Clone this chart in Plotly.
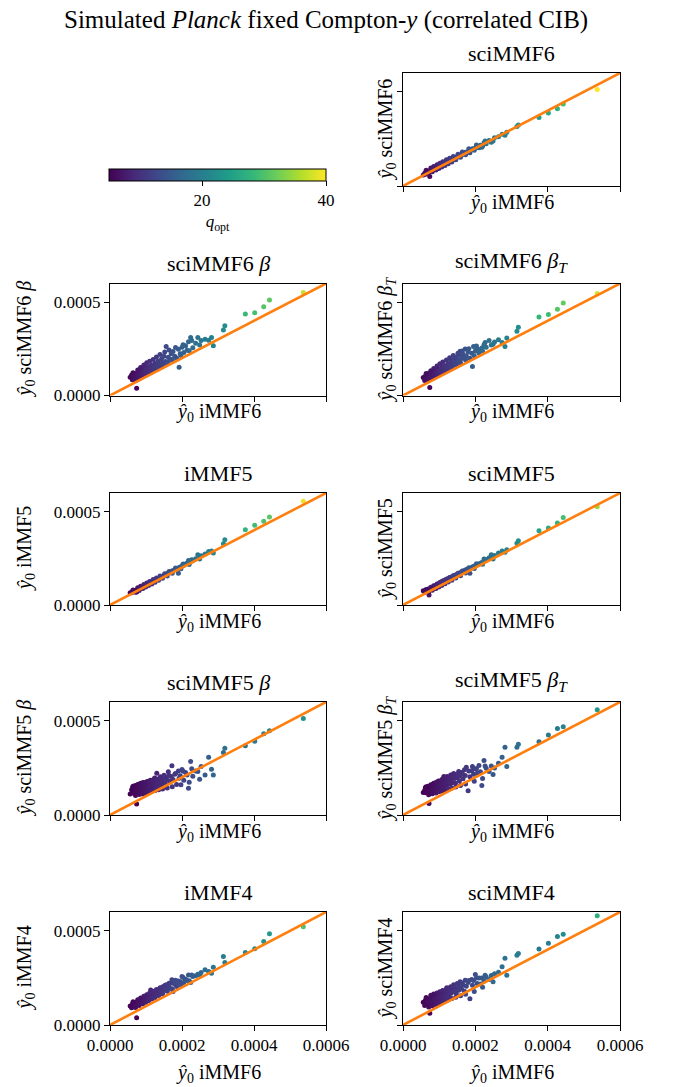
import numpy as np
import plotly.graph_objects as go

# ---------------- data (values in units of 1e-5) ----------------
SCALE = 1e-5

# iMMF6 estimates (shared x axis); last 28 are additional objects of the dense cluster
X_IMMF6 = [
    5.6, 6.0, 6.2, 6.3, 6.6, 6.9, 7.0, 7.2, 7.4, 7.6,
    7.9, 8.0, 8.2, 8.4, 8.7, 8.9, 9.0, 9.2, 9.5, 9.7,
    9.8, 10.0, 10.3, 10.5, 10.6, 10.9, 11.2, 11.3, 11.5, 11.8,
    12.1, 12.2, 12.4, 12.7, 13.0, 13.2, 13.3, 13.6, 14.0, 14.3,
    14.5, 14.7, 15.0, 15.4, 15.6, 15.8, 16.2, 16.6, 17.0, 17.2,
    17.5, 18.0, 18.5, 19.0, 19.2, 19.5, 20.0, 20.5, 21.0, 21.4,
    21.8, 22.4, 23.0, 23.8, 24.4, 25.3, 26.4, 27.4, 28.2, 28.7,
    31.5, 31.9, 37.6, 40.2, 42.7, 44.3, 53.7,
    6.4, 7.1, 7.7, 8.1, 8.5, 9.1, 9.4, 9.9, 10.2, 10.7,
    11.0, 11.6, 12.0, 12.5, 12.9, 13.5, 13.9, 14.6, 15.2, 15.9,
    16.4, 17.3, 18.2, 19.7, 20.3, 22.0, 22.7, 24.9,
]

Y_SCIMMF6 = [
    5.9, 6.8, 6.3, 7.2, 7.0, 7.6, 7.3, 7.9, 5.0, 8.3,
    8.4, 8.9, 8.6, 9.3, 9.1, 9.8, 9.4, 10.1, 9.9, 10.6,
    10.2, 10.9, 10.8, 11.4, 11.0, 11.7, 11.6, 12.3, 11.9, 12.6,
    12.4, 13.1, 12.9, 13.5, 13.3, 14.1, 13.6, 14.2, 14.3, 15.0,
    14.8, 15.3, 15.4, 16.1, 15.7, 16.5, 16.4, 17.2, 17.0, 17.9,
    17.6, 18.4, 17.6, 19.3, 19.8, 19.6, 20.2, 20.6, 20.3, 21.6,
    20.6, 22.9, 22.4, 24.1, 23.2, 25.6, 26.2, 27.5, 27.0, 28.6,
    31.6, 32.4, 36.4, 38.7, 41.0, 43.5, 51.2,
    8.4, 6.6, 9.6, 7.5, 10.4, 8.5, 11.3, 9.3, 12.1, 10.1,
    12.9, 10.9, 13.9, 11.8, 14.7, 12.8, 15.6, 13.9, 16.9, 15.2,
    18.0, 16.6, 19.8, 19.0, 21.8, 21.3, 23.9, 23.9,
]
Y_SCIMMF6_BETA = [
    9.8, 11.0, 8.4, 10.6, 9.2, 11.5, 8.6, 10.3, 3.9, 12.2,
    10.1, 12.8, 11.0, 13.4, 10.4, 12.1, 14.0, 11.6, 13.3, 10.9,
    14.6, 12.5, 13.9, 11.7, 15.4, 13.1, 14.8, 12.4, 16.2, 14.1,
    15.9, 13.3, 17.1, 15.0, 16.4, 14.2, 18.3, 16.8, 15.3, 19.6,
    17.4, 16.1, 21.0, 18.2, 26.2, 17.6, 20.5, 18.9, 22.4, 19.3,
    23.6, 21.0, 20.1, 24.8, 15.1, 22.3, 25.9, 23.0, 26.7, 24.2,
    28.8, 31.1, 25.6, 28.0, 31.1, 29.4, 30.2, 29.6, 31.1, 26.7,
    35.1, 37.4, 43.6, 44.3, 47.5, 51.1, 55.2,
    12.2, 8.0, 13.6, 9.0, 15.0, 10.0, 16.3, 10.9, 17.5, 11.8,
    18.4, 12.8, 19.3, 13.9, 20.6, 15.0, 22.0, 16.2, 23.3, 17.6,
    24.4, 19.0, 25.7, 21.4, 27.2, 24.0, 29.5, 27.0,
]
Y_SCIMMF6_BETAT = [
    9.7, 8.1, 10.4, 9.0, 11.1, 8.3, 10.2, 12.0, 4.3, 9.4,
    11.8, 10.6, 9.7, 12.9, 11.2, 10.3, 13.5, 12.1, 11.0, 14.2,
    12.5, 13.8, 11.9, 14.6, 13.2, 15.3, 12.8, 14.4, 16.0, 13.9,
    15.6, 14.6, 17.0, 15.1, 16.7, 18.2, 15.4, 17.5, 19.1, 16.6,
    18.4, 20.3, 17.2, 21.5, 18.9, 23.7, 19.8, 22.1, 20.6, 24.9,
    21.2, 23.3, 19.9, 22.6, 15.6, 26.3, 23.9, 25.1, 22.8, 24.6,
    25.4, 27.2, 25.8, 29.4, 27.0, 28.7, 29.9, 28.4, 26.3, 30.8,
    34.4, 36.6, 42.1, 43.4, 46.2, 49.6, 54.7,
    11.8, 8.2, 13.2, 9.1, 14.4, 10.2, 15.8, 11.0, 17.0, 11.9,
    18.0, 12.9, 19.0, 14.0, 20.2, 15.1, 21.4, 16.2, 22.7, 17.5,
    23.8, 19.0, 25.0, 21.3, 26.5, 23.8, 28.4, 27.5,
]
Y_IMMF5 = [
    6.6, 6.5, 7.2, 6.9, 7.4, 7.6, 7.8, 7.7, 7.0, 8.3,
    8.2, 8.7, 8.6, 9.1, 9.3, 9.5, 9.8, 9.7, 10.2, 10.4,
    10.6, 10.7, 11.0, 11.2, 11.6, 11.5, 12.0, 12.1, 12.3, 12.4,
    12.8, 13.1, 12.9, 13.5, 13.8, 13.7, 14.2, 14.3, 14.6, 15.2,
    15.1, 15.6, 15.8, 16.3, 16.0, 16.8, 17.0, 17.5, 17.8, 18.2,
    18.4, 18.9, 19.5, 17.0, 20.1, 20.4, 20.9, 21.3, 22.0, 22.3,
    23.8, 23.3, 24.0, 24.8, 26.9, 26.4, 27.3, 28.7, 28.9, 27.8,
    32.8, 34.9, 40.3, 42.7, 44.8, 47.1, 55.6,
    8.0, 6.8, 9.3, 7.8, 10.1, 8.8, 11.0, 9.6, 11.8, 10.4,
    12.6, 11.3, 13.6, 12.2, 14.5, 13.2, 15.5, 14.3, 16.8, 15.6,
    18.0, 17.0, 19.8, 19.4, 21.9, 21.7, 24.2, 24.6,
]
Y_SCIMMF5 = [
    7.7, 6.8, 7.5, 7.9, 7.3, 8.2, 8.6, 5.4, 8.0, 8.9,
    8.6, 9.4, 9.1, 9.8, 9.6, 10.3, 10.1, 10.6, 10.8, 11.2,
    11.0, 11.5, 11.9, 12.0, 12.4, 12.2, 12.9, 13.0, 12.8, 13.5,
    13.4, 13.9, 13.7, 14.3, 14.5, 14.8, 14.6, 15.2, 15.5, 15.9,
    15.7, 16.2, 16.5, 16.9, 17.2, 17.0, 17.7, 18.1, 18.4, 18.6,
    19.0, 19.3, 17.0, 20.1, 20.4, 20.6, 21.1, 21.5, 22.0, 22.4,
    22.8, 24.6, 24.2, 25.3, 26.9, 26.5, 27.8, 28.9, 28.3, 29.6,
    33.1, 34.4, 39.8, 41.2, 43.9, 46.9, 52.7,
    8.3, 6.9, 9.5, 7.9, 10.3, 8.9, 11.2, 9.7, 12.0, 10.5,
    12.8, 11.4, 13.8, 12.3, 14.7, 13.3, 15.7, 14.4, 17.0, 15.7,
    18.2, 17.1, 20.0, 19.5, 22.1, 21.8, 24.4, 24.7,
]
Y_SCIMMF5_BETA = [
    11.2, 13.4, 12.1, 14.8, 11.6, 13.9, 15.6, 12.4, 5.9, 14.2,
    12.8, 16.3, 13.6, 11.9, 15.1, 13.0, 14.5, 17.2, 12.6, 15.8,
    13.9, 16.9, 14.3, 17.8, 12.9, 15.4, 18.5, 14.7, 16.6, 13.8,
    17.4, 15.2, 19.6, 16.1, 22.2, 14.9, 18.0, 16.8, 20.3, 15.5,
    18.9, 17.3, 21.1, 16.4, 19.7, 18.6, 22.9, 17.9, 20.4, 26.1,
    18.8, 21.6, 16.2, 23.4, 19.5, 20.8, 24.1, 18.4, 22.5, 21.3,
    14.2, 28.4, 20.6, 23.3, 23.1, 25.8, 21.3, 30.7, 24.3, 21.3,
    33.2, 35.5, 36.8, 39.1, 43.2, 44.8, 51.3,
    15.3, 10.4, 16.2, 10.9, 16.8, 11.2, 17.2, 11.8, 17.6, 12.1,
    18.1, 12.6, 18.7, 13.0, 19.1, 13.4, 19.6, 13.8, 20.4, 14.4,
    21.0, 15.0, 22.0, 16.0, 23.2, 17.4, 24.5, 19.0,
]
Y_SCIMMF5_BETAT = [
    12.0, 13.1, 14.6, 11.8, 13.9, 15.2, 12.7, 6.1, 14.3, 13.0,
    15.8, 12.4, 14.1, 16.5, 13.3, 15.0, 17.1, 13.8, 16.2, 14.7,
    18.0, 15.5, 13.6, 17.3, 16.0, 19.1, 14.8, 20.4, 16.7, 18.3,
    15.9, 20.4, 17.6, 19.0, 16.3, 21.2, 18.5, 17.1, 22.0, 19.4,
    16.8, 21.5, 19.9, 23.1, 18.1, 20.7, 22.6, 19.2, 24.0, 21.0,
    25.4, 12.9, 20.3, 23.5, 25.8, 21.6, 24.4, 22.2, 26.3, 23.0,
    15.6, 29.0, 24.8, 23.1, 26.0, 24.9, 27.5, 30.6, 36.0, 25.8,
    36.0, 37.5, 38.9, 42.5, 45.9, 46.8, 55.9,
    15.0, 10.8, 16.0, 11.3, 16.9, 11.7, 17.5, 12.3, 18.1, 12.8,
    18.7, 13.3, 19.4, 13.8, 20.0, 14.3, 20.6, 14.9, 21.4, 15.6,
    22.1, 16.4, 23.4, 17.9, 24.6, 19.4, 26.0, 21.5,
]
Y_IMMF4 = [
    10.1, 9.2, 10.8, 11.4, 9.9, 12.0, 10.6, 11.3, 3.9, 12.5,
    10.9, 13.1, 11.8, 12.6, 13.7, 12.2, 11.4, 14.3, 13.0, 14.9,
    12.8, 15.2, 13.9, 14.5, 16.1, 13.6, 15.3, 18.6, 14.8, 16.4,
    15.2, 17.3, 16.0, 17.9, 15.9, 18.4, 17.1, 16.6, 19.5, 18.0,
    17.2, 20.3, 18.6, 19.1, 21.4, 18.4, 20.6, 19.5, 22.2, 24.0,
    17.8, 21.8, 20.4, 23.3, 21.6, 22.9, 25.8, 22.5, 24.3, 23.6,
    26.6, 22.6, 25.7, 26.2, 27.0, 27.9, 29.3, 28.4, 27.5, 30.7,
    36.4, 33.2, 38.5, 40.5, 44.4, 48.5, 52.2,
    12.3, 9.3, 13.4, 10.3, 14.3, 11.3, 15.3, 12.1, 16.1, 12.9,
    17.0, 13.8, 17.9, 14.6, 18.8, 15.6, 19.8, 16.5, 21.0, 17.9,
    22.2, 19.2, 23.7, 21.3, 25.2, 23.5, 26.6, 26.7,
]
Y_SCIMMF4 = [
    12.1, 10.4, 13.2, 11.5, 12.8, 10.9, 14.0, 12.3, 6.3, 13.5,
    11.2, 14.6, 12.7, 15.3, 13.1, 11.8, 15.9, 14.2, 13.0, 16.4,
    14.9, 12.6, 17.2, 15.6, 13.9, 18.1, 16.3, 14.7, 17.5, 15.2,
    19.8, 16.1, 18.0, 15.5, 17.8, 20.3, 16.9, 18.7, 21.4, 17.6,
    19.2, 16.8, 22.1, 18.5, 20.0, 23.0, 19.1, 21.2, 17.9, 23.8,
    20.6, 22.5, 13.9, 24.2, 21.1, 23.6, 26.8, 22.0, 24.9, 21.8,
    25.0, 23.4, 25.5, 24.1, 26.3, 27.2, 28.0, 30.9, 35.4, 26.4,
    37.1, 38.0, 40.4, 43.4, 47.0, 48.2, 58.0,
    14.6, 9.5, 15.8, 10.2, 16.5, 10.9, 17.0, 11.7, 17.6, 12.3,
    18.3, 12.8, 19.0, 13.4, 19.6, 14.1, 20.5, 14.7, 21.4, 15.5,
    22.2, 16.3, 23.6, 17.8, 24.9, 20.0, 26.4, 23.0,
]

# q_opt (colour) of the first 72 objects, three colour regimes seen in the panels
Q_CLUSTER_BRIGHT = [
    5.6, 6.0, 5.9, 6.3, 6.4, 6.6, 6.7, 6.9, 5.5, 7.1,
    7.3, 7.4, 7.5, 7.7, 7.9, 8.0, 8.2, 8.3, 8.5, 8.7,
    8.8, 9.0, 9.2, 9.3, 9.4, 9.6, 9.8, 9.9, 10.1, 10.3,
    10.5, 10.6, 10.7, 10.9, 11.1, 11.2, 11.3, 11.5, 11.8, 12.0,
    12.1, 12.3, 12.5, 12.7, 12.9, 13.0, 13.3, 13.5, 13.8, 14.0,
    14.2, 14.5, 13.6, 15.0, 15.1, 15.3, 15.6, 15.9, 16.2, 16.4,
    16.7, 17.1, 17.4, 17.9, 18.3, 18.8, 19.4, 19.9, 20.4, 20.7,
    22.0, 22.4,
]
Q_CLUSTER_MID = [
    5.3, 5.6, 5.5, 5.8, 5.9, 6.1, 6.2, 6.3, 5.2, 6.5,
    6.6, 6.7, 6.8, 7.0, 7.1, 7.2, 7.4, 7.5, 7.6, 7.8,
    7.9, 8.0, 8.2, 8.3, 8.4, 8.5, 8.7, 8.8, 8.9, 9.1,
    9.2, 9.3, 9.4, 9.6, 9.7, 9.8, 9.9, 10.1, 10.3, 10.4,
    10.5, 10.7, 10.9, 11.0, 11.2, 11.3, 11.5, 11.7, 11.9, 12.1,
    12.3, 12.6, 11.8, 13.0, 13.1, 13.3, 13.6, 13.9, 14.2, 14.4,
    14.7, 15.1, 15.4, 15.9, 16.3, 16.8, 17.4, 17.9, 18.4, 18.7,
    19.6, 20.0,
]
Q_CLUSTER_DARK = [
    5.0, 5.3, 5.2, 5.5, 5.6, 5.7, 5.8, 5.9, 5.1, 6.0,
    6.1, 6.2, 6.3, 6.4, 6.5, 6.6, 6.7, 6.8, 6.9, 7.0,
    7.1, 7.2, 7.3, 7.4, 7.5, 7.6, 7.7, 7.8, 7.9, 8.0,
    8.1, 8.2, 8.3, 8.4, 8.5, 8.6, 8.7, 8.8, 9.0, 9.1,
    9.2, 9.3, 9.5, 9.6, 9.7, 9.8, 10.0, 10.2, 10.3, 10.5,
    10.7, 10.9, 10.2, 11.3, 11.4, 11.6, 11.9, 12.1, 12.4, 12.6,
    12.9, 13.2, 13.5, 13.9, 14.3, 14.7, 15.2, 15.6, 16.0, 16.3,
    17.2, 17.8,
]
# q_opt of the five brightest objects in each panel
Q_TAIL_SCIMMF6 = [24.5, 26.0, 27.5, 29.0, 40.0]
Q_TAIL_SCIMMF6_BETA = [28.5, 29.5, 30.5, 31.0, 37.0]
Q_TAIL_SCIMMF6_BETAT = [28.0, 29.0, 30.5, 31.5, 38.0]
Q_TAIL_IMMF5 = [28.0, 29.0, 30.0, 31.0, 39.0]
Q_TAIL_SCIMMF5 = [25.0, 26.5, 27.5, 29.5, 35.0]
Q_TAIL_SCIMMF5_BETA = [18.6, 19.2, 19.8, 20.5, 22.5]
Q_TAIL_SCIMMF5_BETAT = [18.0, 19.0, 19.5, 20.5, 23.5]
Q_TAIL_IMMF4 = [21.0, 22.0, 23.0, 24.0, 30.0]
Q_TAIL_SCIMMF4 = [19.0, 20.0, 21.0, 22.0, 27.0]
# q_opt of the 28 additional cluster objects
Q_EXTRA_BRIGHT = [
    6.2, 6.8, 7.1, 7.5, 7.7, 8.1, 8.4, 8.7, 9.1, 9.5,
    9.7, 10.0, 10.4, 10.7, 10.9, 11.4, 11.7, 12.2, 12.6, 13.1,
    13.3, 14.0, 14.6, 15.7, 16.0, 17.0, 17.4, 18.6,
]
Q_EXTRA_MID = [
    5.8, 6.2, 6.5, 6.7, 6.9, 7.3, 7.5, 7.8, 8.0, 8.4,
    8.6, 8.9, 9.2, 9.5, 9.6, 10.0, 10.3, 10.6, 11.0, 11.4,
    11.6, 12.2, 12.8, 13.5, 13.8, 14.9, 15.3, 16.5,
]
Q_EXTRA_DARK = [
    5.4, 5.8, 6.0, 6.2, 6.4, 6.7, 6.8, 7.1, 7.2, 7.5,
    7.7, 7.9, 8.2, 8.4, 8.5, 8.9, 9.1, 9.4, 9.7, 10.0,
    10.2, 10.7, 11.1, 11.8, 12.1, 12.9, 13.3, 14.4,
]

ONE_TO_ONE = [0.0, 0.0006]
X_TICKS = [0.0, 0.0002, 0.0004, 0.0006]
Y_TICKS = [0.0, 0.0005]
Q_RANGE = [5, 40]
Q_TICKS = [20, 40]

PANEL_TITLES = ["sciMMF6", "sciMMF6 <i>β</i>", "sciMMF6 <i>β<sub>T</sub></i>",
                "iMMF5", "sciMMF5", "sciMMF5 <i>β</i>", "sciMMF5 <i>β<sub>T</sub></i>",
                "iMMF4", "sciMMF4"]
PANEL_Y = [Y_SCIMMF6, Y_SCIMMF6_BETA, Y_SCIMMF6_BETAT, Y_IMMF5, Y_SCIMMF5,
           Y_SCIMMF5_BETA, Y_SCIMMF5_BETAT, Y_IMMF4, Y_SCIMMF4]
PANEL_Q = [Q_CLUSTER_BRIGHT + Q_TAIL_SCIMMF6 + Q_EXTRA_BRIGHT,
           Q_CLUSTER_BRIGHT + Q_TAIL_SCIMMF6_BETA + Q_EXTRA_BRIGHT,
           Q_CLUSTER_BRIGHT + Q_TAIL_SCIMMF6_BETAT + Q_EXTRA_BRIGHT,
           Q_CLUSTER_BRIGHT + Q_TAIL_IMMF5 + Q_EXTRA_BRIGHT,
           Q_CLUSTER_BRIGHT + Q_TAIL_SCIMMF5 + Q_EXTRA_BRIGHT,
           Q_CLUSTER_DARK + Q_TAIL_SCIMMF5_BETA + Q_EXTRA_DARK,
           Q_CLUSTER_DARK + Q_TAIL_SCIMMF5_BETAT + Q_EXTRA_DARK,
           Q_CLUSTER_MID + Q_TAIL_IMMF4 + Q_EXTRA_MID,
           Q_CLUSTER_MID + Q_TAIL_SCIMMF4 + Q_EXTRA_MID]

# ---------------- layout geometry (pixels) ----------------
W, H = 676, 1087
FONT = "Liberation Serif"
COLS_PX = [(110, 326), (403, 620)]
ROWS_PX = [(73, 186), (283.5, 395.5), (493, 605), (702, 815), (912, 1025)]
PANEL_POS = [(0, 1), (1, 0), (1, 1), (2, 0), (2, 1), (3, 0), (3, 1), (4, 0), (4, 1)]

YHAT = "<i>ŷ</i><sub>0</sub>"

fig = go.Figure()
annotations = []
layout_axes = {}
x_vals = np.array(X_IMMF6) * SCALE

for i, (title, yv, qv, (r, c)) in enumerate(zip(PANEL_TITLES, PANEL_Y, PANEL_Q, PANEL_POS), start=1):
    assert len(yv) == len(X_IMMF6) and len(qv) == len(X_IMMF6), (title, len(yv), len(qv))
    xa, ya = f"x{i}", f"y{i}"
    fig.add_trace(go.Scatter(
        x=x_vals, y=np.array(yv) * SCALE, mode="markers", xaxis=xa, yaxis=ya,
        marker=dict(color=qv, coloraxis="coloraxis", size=5, line=dict(width=0)),
        hoverinfo="skip"))
    fig.add_trace(go.Scatter(
        x=ONE_TO_ONE, y=ONE_TO_ONE, mode="lines", xaxis=xa, yaxis=ya,
        line=dict(color="#ff7f0e", width=2.6), hoverinfo="skip"))
    x0, x1 = COLS_PX[c]
    t0, t1 = ROWS_PX[r]
    common = dict(showline=True, linecolor="black", linewidth=1, mirror=True,
                  ticks="outside", ticklen=5, tickwidth=1, tickcolor="black",
                  showgrid=False, zeroline=False, fixedrange=True,
                  tickfont=dict(family=FONT, size=17, color="black"))
    layout_axes[f"xaxis{i}"] = dict(
        domain=[x0 / W, x1 / W], range=[0, 0.0006], tickvals=X_TICKS,
        tickformat=".4f", showticklabels=(r == 4), anchor=ya, **common)
    layout_axes[f"yaxis{i}"] = dict(
        domain=[1 - t1 / H, 1 - t0 / H], range=[0, 0.0006], tickvals=Y_TICKS,
        tickformat=".4f", showticklabels=(c == 0), anchor=xa, **common)
    # subplot title
    annotations.append(dict(text=title, x=(x0 + x1) / 2 / W, y=1 - (t0 - 5) / H,
                            xref="paper", yref="paper", xanchor="center", yanchor="bottom",
                            showarrow=False, font=dict(family=FONT, size=22, color="black")))
    # x label
    xl_y = t1 + (48 if r == 4 else 17)
    annotations.append(dict(text=f"{YHAT} iMMF6", x=(x0 + x1) / 2 / W, y=1 - xl_y / H,
                            xref="paper", yref="paper", xanchor="center", yanchor="middle",
                            showarrow=False, font=dict(family=FONT, size=20, color="black")))
    # y label
    yl_x = 25 if c == 0 else 386
    annotations.append(dict(text=f"{YHAT} {title}", x=yl_x / W, y=1 - (t0 + t1) / 2 / H,
                            xref="paper", yref="paper", xanchor="center", yanchor="middle",
                            textangle=-90, showarrow=False,
                            font=dict(family=FONT, size=20, color="black")))

annotations.append(dict(text="Simulated <i>Planck</i> fixed Compton-<i>y</i> (correlated CIB)",
                        x=326 / W, y=1 - 20 / H, xref="paper", yref="paper",
                        xanchor="center", yanchor="middle", showarrow=False,
                        font=dict(family=FONT, size=25, color="black")))

fig.update_layout(
    width=W, height=H, margin=dict(l=0, r=0, t=0, b=0, autoexpand=False),
    paper_bgcolor="white", plot_bgcolor="white", showlegend=False,
    annotations=annotations,
    coloraxis=dict(
        colorscale="Viridis", cmin=Q_RANGE[0], cmax=Q_RANGE[1],
        colorbar=dict(
            orientation="h", x=(109 + 326) / 2 / W, xanchor="center",
            y=1 - 169 / H, yanchor="top", len=217 / W, lenmode="fraction",
            thickness=12, outlinewidth=1, outlinecolor="black",
            xpad=0, ypad=0, tickvals=Q_TICKS, ticks="outside", ticklen=5,
            tickcolor="black", tickfont=dict(family=FONT, size=17, color="black"),
            title=dict(text="<i>q</i><sub>opt</sub>", side="bottom",
                       font=dict(family=FONT, size=17, color="black")))),
    **layout_axes,
)

fig.write_html("out.html", config={"displayModeBar": False},
               post_script="document.body.style.margin='0';")
